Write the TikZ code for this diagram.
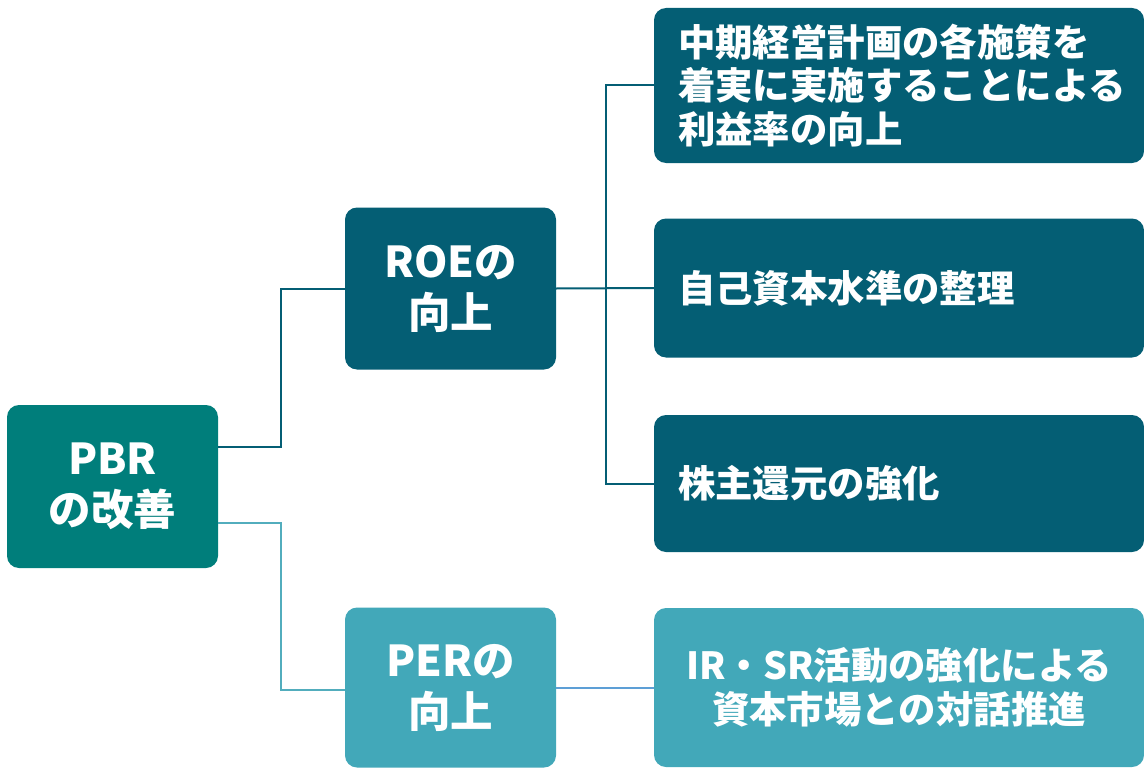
\documentclass[tikz,border=0pt]{standalone}
\usepackage{fontspec}
\setmainfont{Noto Sans CJK JP}
\usetikzlibrary{calc}

\definecolor{pbrcol}{HTML}{007E7B}
\definecolor{roecol}{HTML}{045E74}
\definecolor{percol}{HTML}{42A8B9}
\definecolor{perline}{HTML}{52ADBD}
\definecolor{irline}{HTML}{5D9FD6}

\tikzset{
  box/.style={rounded corners=12pt, inner sep=0pt, text=white, font=\bfseries},
  midbox/.style={box, minimum width=211pt, align=center, font=\bfseries\fontsize{42.5}{51}\selectfont},
  leafbox/.style={box, minimum width=490pt, text width=442pt, inner xsep=24pt,
    align=left, font=\bfseries\fontsize{37.4}{43.5}\selectfont},
  link/.style={line width=2pt}
}

\begin{document}
\begin{tikzpicture}[x=1pt, y=-1pt]
    \useasboundingbox (0,0) rectangle (1144,768);

    \coordinate (P0) at (112.5,486.5);
    \coordinate (P1) at (450.5,288.5);
    \coordinate (P2) at (450.5,687.5);
    \coordinate (P3) at (899,85.5);
    \coordinate (P4) at (899,288);
    \coordinate (P5) at (899,483.5);
    \coordinate (P6) at (899,687.5);

    \node [midbox, fill=pbrcol, minimum height=163pt] (pbr) at (P0) {PBR\\の改善};
    \node [midbox, fill=roecol, minimum height=162pt] (roe) at (P1) {ROEの\\向上};
    \node [midbox, fill=percol, minimum height=160pt] (per) at (P2) {PERの\\向上};

    \node [leafbox, fill=roecol, minimum height=155pt] (plan) at (P3)
        {中期経営計画の各施策を\\着実に実施することによる\\利益率の向上};
    \node [leafbox, fill=roecol, minimum height=139pt] (capital) at (P4) {自己資本水準の整理};
    \node [leafbox, fill=roecol, minimum height=137pt] (return) at (P5) {株主還元の強化};
    \node [leafbox, fill=percol, minimum height=159pt, align=center] (dialog) at (P6)
        {IR・SR活動の強化による\\資本市場との対話推進};

    \draw [link, roecol]([yshift=39.5pt]pbr.east) -- ++(63,0) |- (roe.west);
    \draw [link, perline]([yshift=-36.5pt]pbr.east) -- ++(63,0) |- ([yshift=-2pt]per.west);

    \draw [link, roecol](roe.east) -- (capital.west);
    \coordinate (fork) at ($(roe.east)+(50,0)$);
    \draw [link, roecol](fork) |- (plan.west);
    \draw [link, roecol](fork) |- (return.west);

    \draw [link, irline](per.east) -- (dialog.west);

  \end{tikzpicture}
\end{document}
